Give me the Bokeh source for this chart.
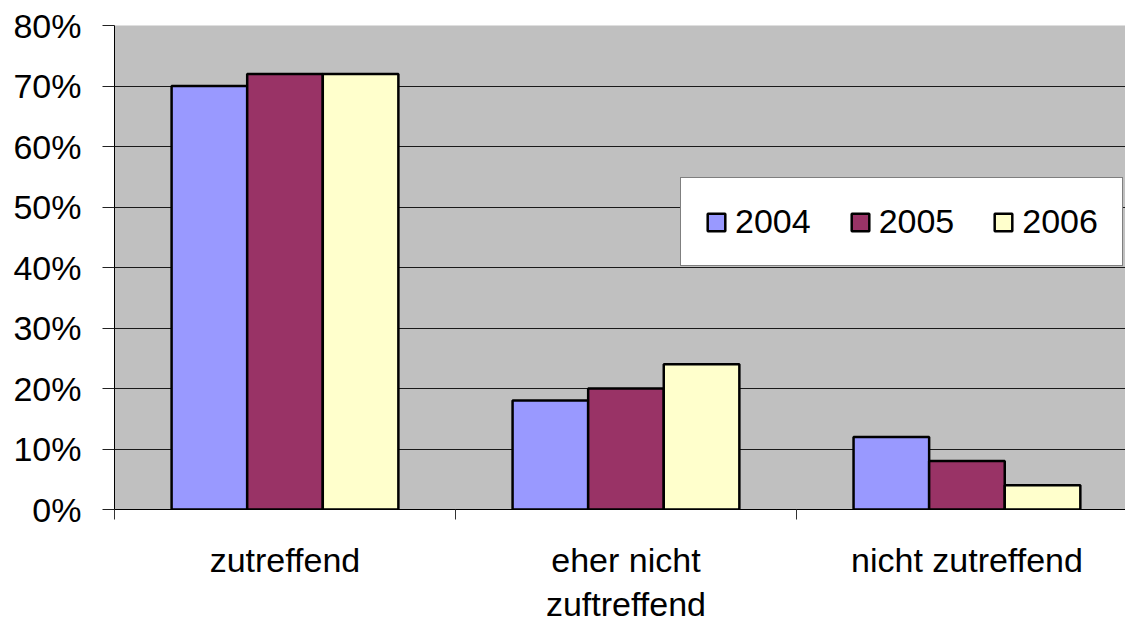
from bokeh.plotting import figure
from bokeh.models import (Range1d, FixedTicker, NumeralTickFormatter, Legend, LegendItem,
                          Grid, ColumnDataSource)
from bokeh.embed import file_html
from bokeh.resources import INLINE

categories = ["zutreffend", "eher nicht\nzuftreffend", "nicht zutreffend"]
years = ["2004", "2005", "2006"]
v2004 = [0.70, 0.18, 0.12]
v2005 = [0.72, 0.20, 0.08]
v2006 = [0.72, 0.24, 0.04]
colors = ["#9999FF", "#993366", "#FFFFCC"]
y_ticks = [0.0, 0.1, 0.2, 0.3, 0.4, 0.5, 0.6, 0.7, 0.8]

FONT = "Liberation Sans"
FS = "34px"

p = figure(width=1125, height=626, output_backend="svg", toolbar_location=None,
           x_range=Range1d(0, 2.965), y_range=Range1d(0, 0.8),
           min_border_left=114, min_border_right=0, min_border_top=25,
           min_border_bottom=0)
p.background_fill_color = "#C0C0C0"
p.outline_line_color = None

centers = [i + 0.5 for i in range(len(categories))]
bw = 0.2217
offsets = [-bw, 0.0, bw]
renderers = []
for vals, off, col in zip([v2004, v2005, v2006], offsets, colors):
    src = ColumnDataSource(dict(x=[c + off for c in centers], top=vals))
    r = p.vbar(x="x", top="top", width=bw, bottom=0, source=src,
               fill_color=col, line_color="black", line_width=2.5)
    renderers.append(r)

# grids
p.xgrid.visible = False
p.ygrid.ticker = FixedTicker(ticks=y_ticks[1:-1])
p.ygrid.grid_line_color = "#1a1a1a"
p.ygrid.grid_line_width = 1
p.add_layout(Grid(dimension=1, ticker=FixedTicker(ticks=[0.8]),
                  grid_line_color="#707070", grid_line_width=1.5))

# y axis
ya = p.yaxis[0]
ya.ticker = FixedTicker(ticks=y_ticks)
ya.formatter = NumeralTickFormatter(format="0%")
ya.major_tick_out = 12
ya.major_tick_in = 0
ya.minor_tick_out = 0
ya.minor_tick_in = 0
ya.major_label_standoff = 21
ya.major_label_text_font = FONT
ya.major_label_text_font_size = FS
ya.major_label_text_color = "black"
ya.axis_line_color = "black"
ya.major_tick_line_color = "#222222"

# x axis
xa = p.xaxis[0]
xa.ticker = FixedTicker(ticks=centers, minor_ticks=[0, 1, 2, 3])
xa.major_label_overrides = {c: lab for c, lab in zip(centers, categories)}
xa.major_tick_out = 0
xa.major_tick_in = 0
xa.minor_tick_out = 10
xa.minor_tick_in = 0
xa.minor_tick_line_color = "#333333"
xa.major_label_standoff = 21
xa.major_label_text_font = FONT
xa.major_label_text_font_size = FS
xa.major_label_text_color = "black"
xa.major_label_text_line_height = 1.18
xa.axis_line_color = "black"

legend = Legend(items=[LegendItem(label=y, renderers=[r]) for y, r in zip(years, renderers)],
                orientation="horizontal", location=(566, 243))
legend.label_text_font = FONT
legend.label_text_font_size = FS
legend.label_text_color = "black"
legend.glyph_width = 22
legend.glyph_height = 22
legend.label_standoff = 8
legend.spacing = 38
legend.padding = 24
legend.margin = 0
legend.border_line_color = "black"
legend.border_line_width = 1
legend.background_fill_color = "white"
legend.background_fill_alpha = 1
p.add_layout(legend)

open("out.html", "w").write(file_html(p, INLINE))
